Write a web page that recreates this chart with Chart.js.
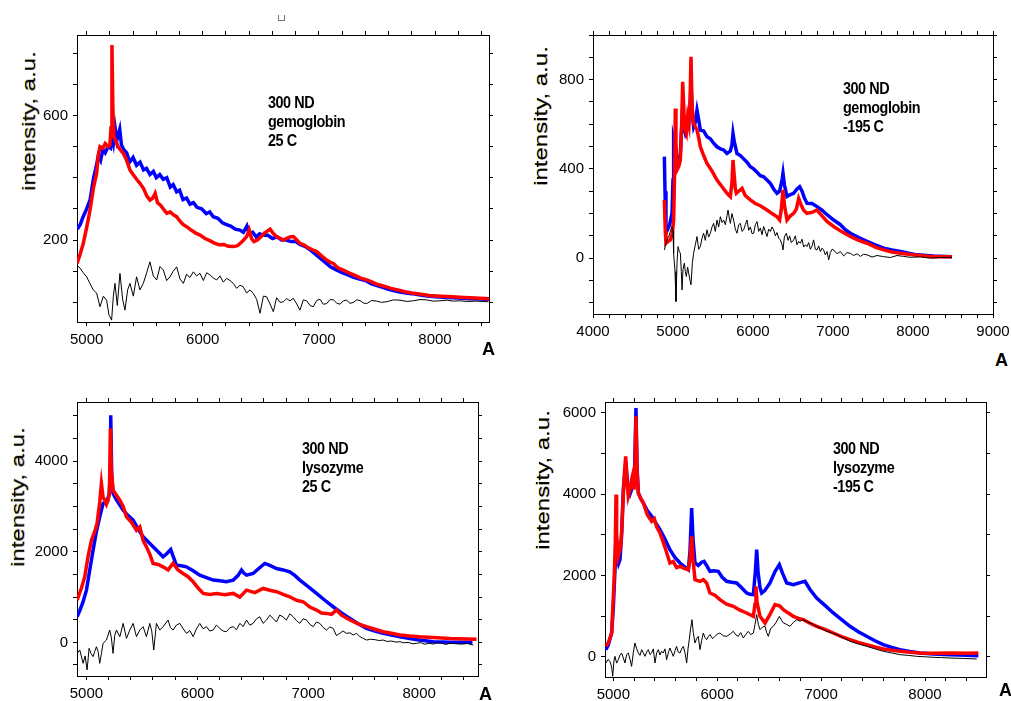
<!DOCTYPE html>
<html lang="en">
<head>
  <meta charset="UTF-8">
  <title>Spectra</title>
  <script src="https://cdn.jsdelivr.net/npm/chart.js@4.4.1/dist/chart.umd.min.js"></script>
  <style>
    html, body { margin: 0; padding: 0; background: #fff; overflow: hidden; }
    body { position: relative; width: 1011px; height: 701px; font-family: "Liberation Sans", Arial, sans-serif; }
    canvas { position: absolute; }
    .note { position: absolute; font-size: 16px; line-height: 19px; color: #000; white-space: pre; font-weight: bold;
      letter-spacing: -0.5px; transform: scaleX(0.9); transform-origin: 0 0; z-index: 2; }
    .unit { position: absolute; font-size: 18px; line-height: 18px; color: #000; font-weight: bold; z-index: 2; }
    .ytitle { position: absolute; font-size: 18px; line-height: 18px; color: #000; white-space: nowrap; z-index: 2;
      text-shadow: 0 -1px 0 rgba(255, 225, 0, 0.55), 0 1px 0 rgba(0, 0, 255, 0.35); }
    .mark { position: absolute; left: 278px; top: 15px; width: 5px; height: 5px; border: 1px solid #777; border-top: none; }
  </style>
</head>
<body>
  <div class="mark"></div>

  <script>
    // ---- gemoglobin, 25 C ----
    var hemo25Blue = [[4920,235],[4945,250],[4970,275],[5000,300],[5030,330],[5060,400],[5085,440],[5100,470],[5120,455],[5140,490],[5160,480],[5185,500],[5205,495],[5215,535],[5230,510],[5245,560],[5260,520],[5285,555],[5300,505],[5320,490],[5345,480],[5370,450],[5400,465],[5430,440],[5460,450],[5490,425],[5515,430],[5545,410],[5575,420],[5600,400],[5630,410],[5660,395],[5690,400],[5720,370],[5745,378],[5775,355],[5800,360],[5830,330],[5860,335],[5890,315],[5920,320],[5950,305],[5990,300],[6030,285],[6060,290],[6090,275],[6130,270],[6170,255],[6200,250],[6240,245],[6280,235],[6320,232],[6350,225],[6380,245],[6400,220],[6430,225],[6460,210],[6490,220],[6520,215],[6560,215],[6600,205],[6640,210],[6680,200],[6720,200],[6760,195],[6800,195],[6840,185],[6880,180],[6920,170],[6960,158],[7000,145],[7050,130],[7100,114],[7150,104],[7200,95],[7250,88],[7300,80],[7350,75],[7400,70],[7450,60],[7500,54],[7550,48],[7600,42],[7650,37],[7700,33],[7750,30],[7800,28],[7900,22],[8000,18],[8100,16],[8200,14],[8300,12],[8465,10]];
    var hemo25Red = [[4917,125],[4940,150],[4971,189],[5000,240],[5029,296],[5060,370],[5086,414],[5100,470],[5115,500],[5140,495],[5160,510],[5185,500],[5200,505],[5210,560],[5218,826],[5226,620],[5235,530],[5250,520],[5270,500],[5290,490],[5316,478],[5340,460],[5373,425],[5400,410],[5430,395],[5459,382],[5490,365],[5520,340],[5545,328],[5570,335],[5590,350],[5610,320],[5640,310],[5660,300],[5690,286],[5720,290],[5750,280],[5775,275],[5800,262],[5830,250],[5861,243],[5900,232],[5940,222],[5976,216],[6020,205],[6060,198],[6100,190],[6140,185],[6180,186],[6220,180],[6263,179],[6300,182],[6340,195],[6378,211],[6400,232],[6420,205],[6440,195],[6470,200],[6500,210],[6530,222],[6550,227],[6580,235],[6608,221],[6640,210],[6670,205],[6694,200],[6720,205],[6750,210],[6780,211],[6810,200],[6837,189],[6870,185],[6910,175],[6950,168],[6981,163],[7020,150],[7060,138],[7100,128],[7125,125],[7160,112],[7200,105],[7268,93],[7320,85],[7360,78],[7412,72],[7460,65],[7500,58],[7560,52],[7620,45],[7680,40],[7740,34],[7800,30],[7880,26],[7950,22],[8050,20],[8150,18],[8250,16],[8350,14],[8465,12]];
    var hemo25Black = [[4914,120],[4943,110],[4971,95],[5000,82],[5029,60],[5057,40],[5086,30],[5115,-14],[5144,20],[5172,7],[5192,-40],[5215,-57],[5230,20],[5244,61],[5264,-10],[5287,93],[5310,10],[5330,-25],[5353,40],[5373,61],[5402,20],[5430,82],[5459,40],[5488,61],[5517,95],[5545,130],[5574,85],[5603,72],[5632,115],[5660,104],[5689,70],[5718,82],[5746,100],[5775,114],[5804,75],[5833,61],[5861,90],[5890,80],[5919,98],[5947,85],[5976,93],[6005,70],[6034,95],[6062,88],[6091,78],[6120,72],[6148,85],[6177,65],[6206,77],[6235,70],[6263,61],[6292,45],[6321,55],[6349,50],[6378,30],[6407,40],[6435,29],[6464,10],[6493,-35],[6522,20],[6550,18],[6579,-5],[6608,-30],[6636,15],[6665,0],[6694,2],[6723,12],[6751,5],[6780,13],[6809,-5],[6837,-25],[6866,8],[6895,5],[6924,-10],[6952,-14],[6981,6],[7010,10],[7038,-6],[7067,-4],[7096,9],[7125,8],[7153,-2],[7182,-6],[7211,5],[7239,7],[7268,-3],[7297,0],[7325,8],[7354,6],[7383,-2],[7412,-4],[7455,6],[7498,4],[7541,0],[7584,2],[7641,8],[7699,7],[7756,3],[7814,5],[7871,9],[7928,8],[7985,4],[8043,5],[8100,7],[8158,4],[8215,5],[8273,3],[8360,4],[8460,2]];

    // ---- gemoglobin, -195 C ----
    var hemo195Blue = [[4892,455],[4900,300],[4912,112],[4933,130],[4958,150],[4988,201],[5000,350],[5008,529],[5025,500],[5050,440],[5071,430],[5092,469],[5113,618],[5133,590],[5154,559],[5175,580],[5196,604],[5213,650],[5225,790],[5242,640],[5258,589],[5279,610],[5300,663],[5321,620],[5342,574],[5383,570],[5425,544],[5467,535],[5508,515],[5550,499],[5592,490],[5633,485],[5675,469],[5717,480],[5737,510],[5750,559],[5767,520],[5800,469],[5842,460],[5883,445],[5925,430],[5967,410],[6008,400],[6050,385],[6092,370],[6133,365],[6175,350],[6217,335],[6258,310],[6300,291],[6333,300],[6363,350],[6375,380],[6392,330],[6425,276],[6467,285],[6508,291],[6550,310],[6583,320],[6613,300],[6642,270],[6675,246],[6738,245],[6800,231],[6863,215],[6925,195],[7008,171],[7092,150],[7154,128],[7217,112],[7321,92],[7425,75],[7529,60],[7633,45],[7738,37],[7842,30],[7946,22],[8050,15],[8258,10],[8487,7]];
    var hemo195Red = [[4892,261],[4904,120],[4912,67],[4937,75],[4967,82],[4992,110],[5008,171],[5021,400],[5029,671],[5037,520],[5050,395],[5071,410],[5092,440],[5108,600],[5121,790],[5137,650],[5154,574],[5167,560],[5183,633],[5200,600],[5213,700],[5225,902],[5238,680],[5258,604],[5279,590],[5300,574],[5321,540],[5342,499],[5383,460],[5425,425],[5488,390],[5550,350],[5613,320],[5675,291],[5717,276],[5737,340],[5750,440],[5763,380],[5779,310],[5792,291],[5821,300],[5863,313],[5904,280],[5967,261],[6029,245],[6092,235],[6175,216],[6238,200],[6300,185],[6333,171],[6354,220],[6375,306],[6392,240],[6425,171],[6467,190],[6508,201],[6542,220],[6571,268],[6600,240],[6633,215],[6675,201],[6738,205],[6800,216],[6863,190],[6925,165],[7008,142],[7113,118],[7217,97],[7321,80],[7425,67],[7529,50],[7633,37],[7738,28],[7842,22],[8050,13],[8258,7],[8487,7]];
    var hemo195Black = [[4892,37],[4908,60],[4925,82],[4950,100],[4975,130],[4988,142],[5000,120],[5008,22],[5025,-60],[5037,-194],[5050,-20],[5063,52],[5079,30],[5092,22],[5104,-60],[5113,-142],[5125,-50],[5142,-22],[5154,-60],[5167,-82],[5183,-40],[5196,-67],[5213,-100],[5225,-119],[5242,-20],[5258,22],[5279,60],[5300,97],[5321,40],[5342,52],[5363,90],[5383,112],[5404,80],[5425,127],[5446,95],[5467,112],[5488,140],[5508,156],[5529,120],[5550,171],[5571,140],[5592,186],[5613,160],[5633,171],[5654,150],[5675,190],[5688,216],[5704,180],[5717,156],[5737,200],[5758,171],[5779,130],[5800,112],[5821,150],[5842,156],[5863,120],[5883,127],[5904,150],[5925,171],[5946,125],[5967,140],[5988,110],[6008,112],[6029,150],[6050,164],[6071,120],[6092,135],[6113,105],[6133,142],[6154,120],[6175,97],[6196,130],[6217,120],[6238,140],[6258,127],[6279,100],[6300,115],[6321,90],[6342,82],[6363,60],[6375,37],[6392,95],[6417,112],[6438,80],[6458,100],[6479,70],[6508,82],[6529,100],[6550,60],[6571,75],[6592,67],[6613,85],[6633,50],[6654,60],[6675,52],[6696,70],[6717,40],[6738,55],[6758,82],[6779,40],[6800,37],[6821,55],[6842,30],[6863,45],[6883,37],[6904,15],[6925,30],[6946,-7],[6967,25],[6988,40],[7008,37],[7050,20],[7092,30],[7133,10],[7175,25],[7217,22],[7258,12],[7300,20],[7342,8],[7383,18],[7425,15],[7488,5],[7550,12],[7633,7],[7717,3],[7800,12],[7883,8],[7967,4],[8092,6],[8217,0],[8342,3],[8487,4]];

    // ---- lysozyme, 25 C ----
    var lyso25Blue = [[4916,566],[4940,700],[4970,900],[5000,1154],[5030,1600],[5060,2037],[5090,2450],[5120,2772],[5150,3066],[5180,3103],[5204,3250],[5213,3600],[5219,5015],[5228,3700],[5240,3287],[5271,3150],[5331,2919],[5376,2800],[5421,2699],[5466,2500],[5511,2331],[5556,2220],[5601,2110],[5646,2000],[5691,1890],[5721,1950],[5760,2051],[5782,1900],[5811,1706],[5856,1690],[5901,1669],[5962,1580],[6022,1485],[6082,1430],[6142,1375],[6202,1360],[6262,1338],[6323,1375],[6368,1480],[6398,1596],[6419,1530],[6443,1485],[6503,1522],[6548,1620],[6608,1743],[6653,1700],[6713,1632],[6773,1600],[6833,1559],[6878,1480],[6924,1375],[6999,1230],[7074,1081],[7149,930],[7224,787],[7300,650],[7375,529],[7450,410],[7525,309],[7600,250],[7675,199],[7750,160],[7826,125],[7916,85],[8000,51],[8126,15],[8277,5],[8480,0]];
    var lyso25Red = [[4916,934],[4955,1200],[4985,1450],[5015,1900],[5045,2257],[5075,2450],[5096,2625],[5120,3100],[5135,3507],[5150,3200],[5165,3140],[5180,3050],[5195,3140],[5207,3300],[5216,4721],[5225,3800],[5240,3360],[5271,3250],[5301,3140],[5331,3000],[5361,2772],[5406,2650],[5451,2478],[5481,2550],[5511,2250],[5541,2110],[5571,1950],[5601,1743],[5646,1720],[5691,1669],[5736,1600],[5781,1743],[5826,1600],[5871,1522],[5916,1450],[5962,1338],[6007,1200],[6052,1081],[6112,1060],[6172,1081],[6247,1050],[6323,1081],[6383,1000],[6443,1154],[6518,1100],[6593,1191],[6653,1150],[6713,1118],[6773,1060],[6833,1007],[6894,930],[6954,897],[7014,780],[7074,713],[7119,650],[7164,640],[7209,620],[7254,713],[7300,600],[7375,493],[7450,410],[7525,346],[7600,290],[7675,235],[7750,200],[7826,162],[7916,140],[8000,125],[8126,110],[8277,88],[8429,75],[8517,66]];
    var lyso25Black = [[4916,-243],[4940,-169],[4970,-463],[4988,-300],[5006,-610],[5024,-132],[5042,-250],[5060,-316],[5075,-200],[5090,-96],[5105,-200],[5120,-463],[5135,-250],[5150,-22],[5180,51],[5210,272],[5225,100],[5240,-243],[5255,150],[5271,272],[5301,125],[5331,419],[5361,88],[5391,272],[5421,419],[5451,125],[5481,272],[5511,346],[5541,125],[5571,419],[5589,250],[5607,-169],[5631,419],[5661,272],[5691,346],[5736,493],[5757,330],[5781,272],[5811,380],[5842,419],[5872,300],[5902,199],[5932,260],[5962,125],[5992,300],[6022,419],[6052,300],[6082,346],[6112,250],[6142,272],[6172,380],[6202,309],[6232,250],[6262,235],[6292,320],[6323,346],[6353,280],[6383,419],[6413,350],[6443,493],[6473,380],[6503,419],[6533,520],[6563,566],[6593,420],[6623,493],[6653,600],[6683,529],[6713,450],[6743,603],[6773,560],[6803,493],[6833,630],[6864,566],[6894,480],[6924,419],[6954,520],[6984,493],[7014,400],[7044,346],[7074,450],[7104,419],[7134,330],[7164,272],[7194,340],[7224,309],[7254,150],[7284,199],[7314,250],[7344,199],[7375,210],[7405,162],[7435,200],[7465,125],[7495,90],[7525,51],[7560,70],[7600,60],[7640,40],[7675,51],[7710,20],[7750,30],[7790,5],[7826,15],[7860,-10],[7901,0],[7940,-30],[7976,-22],[8010,-5],[8051,-40],[8090,-20],[8126,-37],[8165,-10],[8201,-20],[8240,-45],[8277,-22],[8330,-30],[8382,-40],[8430,-25],[8487,-59]];

    // ---- lysozyme, -195 C ----
    var lyso195Blue = [[4929,180],[4952,300],[4984,590],[5000,1200],[5016,2148],[5029,2600],[5038,2475],[5051,2300],[5064,2393],[5080,3000],[5096,4115],[5109,4500],[5122,4811],[5132,4400],[5144,4115],[5160,4000],[5176,4115],[5192,4443],[5205,4600],[5218,6123],[5228,4700],[5241,4033],[5263,3900],[5289,3787],[5327,3600],[5369,3459],[5407,3300],[5449,3131],[5497,2900],[5545,2639],[5593,2450],[5642,2311],[5680,2230],[5722,2148],[5738,2600],[5754,3664],[5767,2900],[5786,2311],[5818,2250],[5850,2330],[5873,2352],[5898,2250],[5930,2107],[5969,2120],[6010,2107],[6048,1960],[6091,1861],[6139,1840],[6187,1820],[6235,1700],[6283,1574],[6315,1540],[6348,1533],[6367,2100],[6380,2639],[6393,2100],[6412,1700],[6428,1574],[6460,1640],[6508,1820],[6556,2100],[6598,2270],[6630,2050],[6669,1820],[6733,1779],[6797,1830],[6845,1861],[6893,1660],[6957,1451],[7037,1270],[7117,1082],[7197,920],[7278,754],[7358,620],[7438,508],[7518,400],[7598,303],[7679,235],[7759,180],[7855,135],[7952,98],[8080,75],[8240,57],[8400,45],[8513,33]];
    var lyso195Red = [[4929,262],[4952,350],[4984,590],[5010,2066],[5019,2800],[5026,3992],[5032,3000],[5048,2475],[5071,2721],[5083,3200],[5096,3951],[5109,4600],[5119,4934],[5132,4300],[5144,3951],[5160,4100],[5176,4361],[5189,4500],[5199,4115],[5208,4400],[5218,5918],[5228,4600],[5241,4033],[5263,3900],[5289,3787],[5327,3500],[5369,3336],[5395,3400],[5417,3200],[5449,3049],[5497,2700],[5545,2311],[5577,2350],[5609,2200],[5642,2230],[5680,2180],[5722,2148],[5738,2400],[5754,2967],[5767,2400],[5786,1902],[5834,1860],[5866,1900],[5898,1820],[5930,1574],[5978,1520],[6026,1410],[6091,1300],[6155,1246],[6219,1150],[6283,1082],[6348,1000],[6364,1300],[6373,1738],[6383,1350],[6412,1000],[6460,836],[6508,1050],[6556,1287],[6604,1250],[6637,1164],[6685,1080],[6733,1000],[6781,950],[6829,918],[6893,830],[6957,754],[7037,680],[7117,590],[7197,500],[7278,426],[7358,360],[7438,303],[7518,250],[7598,197],[7679,165],[7759,139],[7855,115],[7952,98],[8080,95],[8240,98],[8400,90],[8513,98]];
    var lyso195Black = [[4929,-148],[4949,-60],[4968,-107],[4984,-250],[4994,-475],[5006,-100],[5016,16],[5032,-150],[5048,-66],[5064,50],[5080,98],[5096,-20],[5112,-148],[5128,60],[5144,98],[5160,-50],[5176,-230],[5192,100],[5208,344],[5225,200],[5241,98],[5257,40],[5273,180],[5289,100],[5305,16],[5321,120],[5337,180],[5353,60],[5369,98],[5385,200],[5401,-148],[5417,100],[5433,180],[5449,50],[5465,140],[5481,98],[5497,200],[5513,-66],[5529,100],[5545,221],[5561,120],[5577,16],[5593,150],[5609,262],[5625,120],[5642,98],[5658,200],[5674,262],[5690,100],[5706,-148],[5719,200],[5731,426],[5744,700],[5757,918],[5770,600],[5786,344],[5802,450],[5818,508],[5834,180],[5850,400],[5866,590],[5882,480],[5898,426],[5914,500],[5930,549],[5956,450],[5978,508],[6000,560],[6026,590],[6059,520],[6091,508],[6123,560],[6155,631],[6181,540],[6203,508],[6226,600],[6251,467],[6277,560],[6299,631],[6322,550],[6348,590],[6364,800],[6380,1041],[6396,800],[6412,672],[6438,740],[6460,754],[6476,600],[6492,508],[6514,700],[6540,754],[6566,850],[6598,1000],[6620,900],[6637,836],[6669,800],[6701,754],[6733,850],[6765,918],[6797,880],[6829,918],[6861,870],[6893,836],[6925,800],[6957,754],[7005,700],[7053,631],[7101,600],[7149,549],[7213,470],[7278,385],[7358,320],[7438,262],[7518,200],[7598,139],[7679,100],[7759,57],[7839,40],[7919,16],[8000,5],[8080,-8],[8160,-15],[8240,-25],[8368,-35],[8497,-49]];

    // tick values that carry a number; the other ticks are bare marks
    var xLabelsNarrow = [5000, 6000, 7000, 8000];
    var xLabelsWide = [4000, 5000, 6000, 7000, 8000, 9000];
    var hemo25YLabels = [200, 600];
    var hemo195YLabels = [0, 400, 800];
    var lyso25YLabels = [0, 2000, 4000];
    var lyso195YLabels = [0, 2000, 4000, 6000];

    var notes = [
      ['300 ND', 'gemoglobin', '25 C'],
      ['300 ND', 'gemoglobin', '-195 C'],
      ['300 ND', 'lysozyme', '25 C'],
      ['300 ND', 'lysozyme', '-195 C']
    ];

    // panel frames: plot box in page pixels, axis ranges, tick steps
    var panels = [
      { box: [77, 35, 489, 322], x: [4917, 8465], y: [-63, 858], xStep: 200, yStep: 100,
        xLabels: xLabelsNarrow, yLabels: hemo25YLabels, series: [hemo25Black, hemo25Red, hemo25Blue],
        note: [268, 93], unit: [482, 340], title: [29, 121] },
      { box: [593, 35, 993, 314], x: [4000, 9000], y: [-250, 1000], xStep: 200, yStep: 100,
        xLabels: xLabelsWide, yLabels: hemo195YLabels, series: [hemo195Black, hemo195Red, hemo195Blue],
        note: [843, 79], unit: [995, 351], title: [541, 116] },
      { box: [77, 402, 478, 676], x: [4915, 8530], y: [-743, 5309], xStep: 200, yStep: 500,
        xLabels: xLabelsNarrow, yLabels: lyso25YLabels, series: [lyso25Black, lyso25Red, lyso25Blue],
        note: [302, 439], unit: [479, 685], title: [18, 497] },
      { box: [605, 402, 986, 677], x: [4920, 8587], y: [-492, 6270], xStep: 200, yStep: 1000,
        xLabels: xLabelsNarrow, yLabels: lyso195YLabels, series: [lyso195Black, lyso195Red, lyso195Blue],
        note: [833, 439], unit: [999, 681], title: [543, 480] }
    ];

    var AXIS = { left: 60, right: 24, top: 10, bottom: 34 };
    var FONT = { family: '"Liberation Sans", Arial, sans-serif', size: 15 };
    var COLORS = ['#000000', '#ff0000', '#0000ff'];
    var WIDTHS = [1, 3.5, 3.5];

    function tickList(range, step){
      var out = [], v = Math.ceil(range[0]/step)*step;
      for(; v<=range[1]; v+=step) out.push({ value: v });
      return out;
    }

    function axis(pos, range, step, labels, size){
      var horiz = pos==='top' || pos==='bottom';
      return {
        type: 'linear',
        position: pos,
        min: range[0],
        max: range[1],
        afterBuildTicks: function(s){ s.ticks = tickList(range, step); },
        afterFit: function(s){
          if(horiz) s.height = size; else s.width = size;
          s.paddingLeft = s.paddingRight = s.paddingTop = s.paddingBottom = 0;
        },
        grid: { drawOnChartArea: false, drawTicks: true, tickLength: 4, color: '#000', lineWidth: 1 },
        border: { display: true, color: '#000', width: 1 },
        ticks: {
          display: labels.length > 0,
          autoSkip: false,
          maxRotation: 0,
          padding: 5,
          color: '#000',
          font: FONT,
          callback: function(v){ return labels.indexOf(v) > -1 ? String(v) : ''; }
        }
      };
    }

    function addText(cls, x, y, html){
      var el = document.createElement('div');
      el.className = cls;
      el.style.left = x+'px';
      el.style.top = y+'px';
      el.innerHTML = html;
      document.body.appendChild(el);
      return el;
    }

    panels.forEach(function(p, i){
      var l = p.box[0], t = p.box[1], r = p.box[2], b = p.box[3];
      var canvas = document.createElement('canvas');
      canvas.width = r-l+AXIS.left+AXIS.right;
      canvas.height = b-t+AXIS.top+AXIS.bottom;
      canvas.style.left = (l-AXIS.left)+'px';
      canvas.style.top = (t-AXIS.top)+'px';
      document.body.appendChild(canvas);

      new Chart(canvas, {
        type: 'line',
        data: {
          datasets: p.series.map(function(s, k){
            return { data: s, borderColor: COLORS[k], borderWidth: WIDTHS[k], pointRadius: 0, tension: 0, fill: false };
          })
        },
        options: {
          responsive: false,
          animation: false,
          devicePixelRatio: 1,
          layout: { padding: 0 },
          plugins: { legend: { display: false }, tooltip: { enabled: false } },
          scales: {
            x: axis('bottom', p.x, p.xStep, p.xLabels, AXIS.bottom),
            x2: axis('top', p.x, p.xStep, [], AXIS.top),
            y: axis('left', p.y, p.yStep, p.yLabels, AXIS.left),
            y2: axis('right', p.y, p.yStep, [], AXIS.right)
          }
        }
      });

      var n = notes[i];
      addText('note', p.note[0], p.note[1], n.join('\n'));
      addText('unit', p.unit[0], p.unit[1], 'A');

      var title = addText('ytitle', p.title[0], p.title[1], 'intensity, a.u.');
      var k = 140/title.offsetWidth;
      title.style.transform = 'translate(-50%, -50%) rotate(-90deg) scaleX('+k+')';
    });
  </script>
</body>
</html>
